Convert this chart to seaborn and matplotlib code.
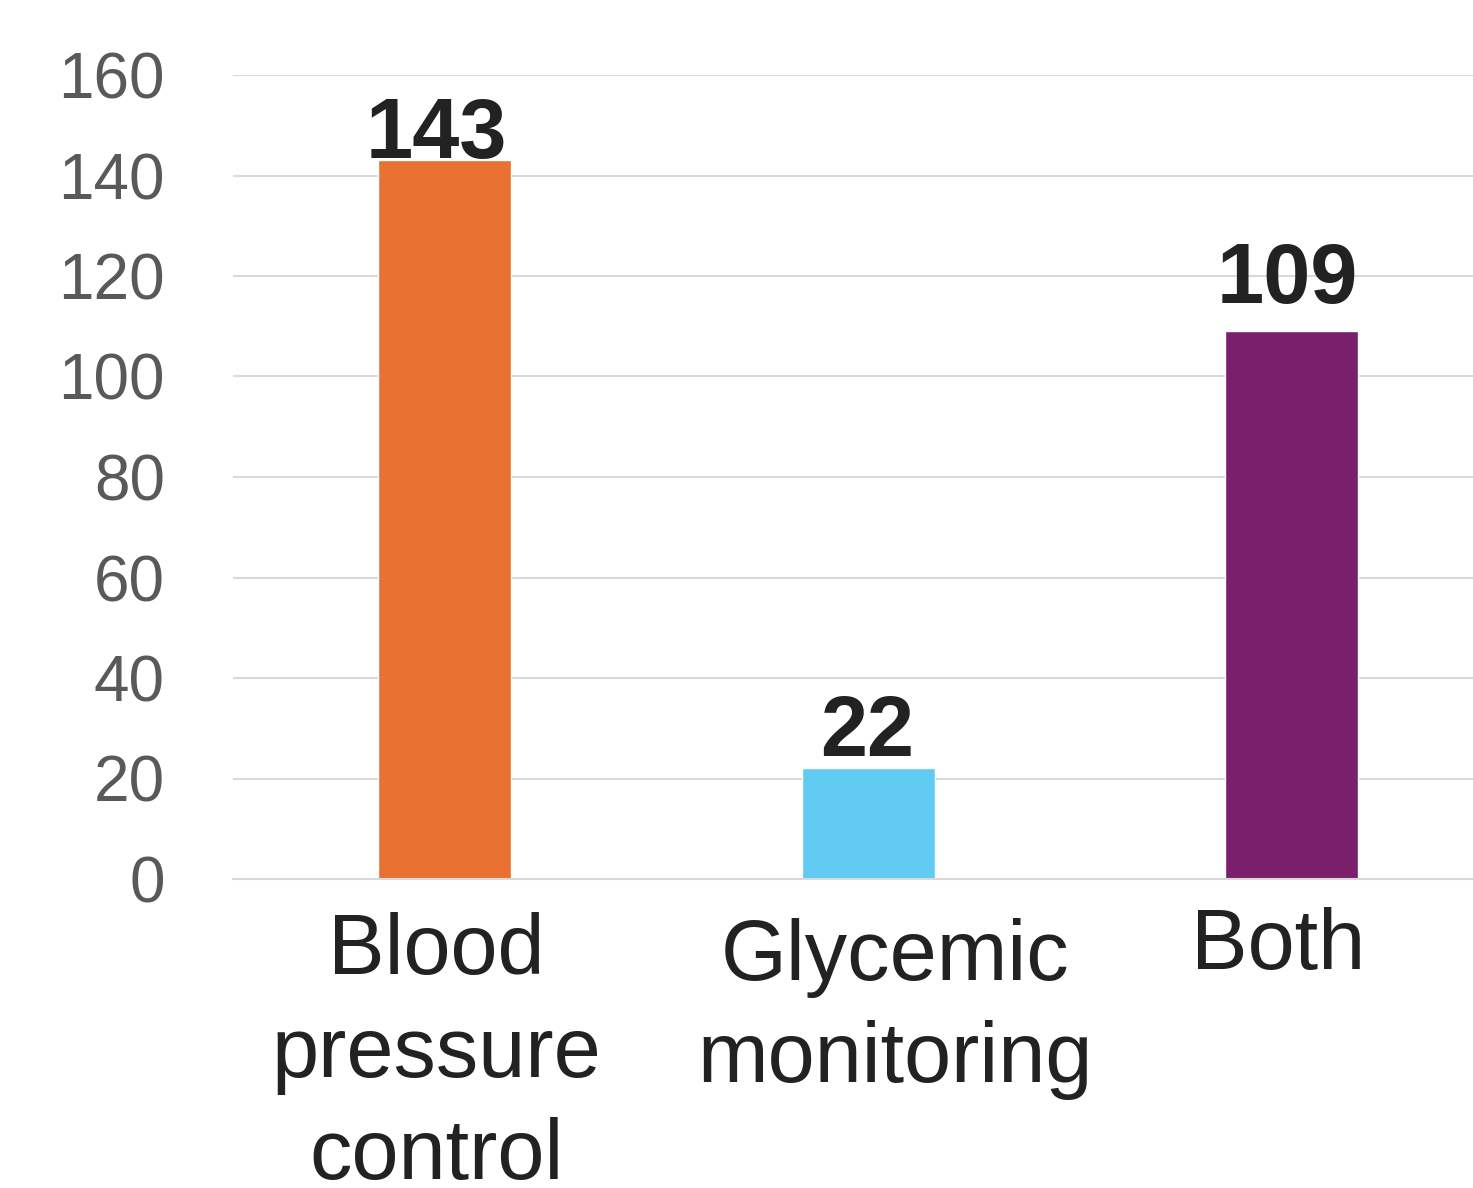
import matplotlib
matplotlib.use("Agg")
import matplotlib.pyplot as plt
import matplotlib.transforms as mtransforms
import seaborn as sns
import pandas as pd

categories = ["Blood\npressure\ncontrol", "Glycemic\nmonitoring", "Both"]
values = [143, 22, 109]
bar_colors = ["#E97132", "#61CBF3", "#7A1F6B"]
y_ticks = [0, 20, 40, 60, 80, 100, 120, 140, 160]

# label nudges (points): (dx, dy)
xlabel_offsets = [(-6, -2), (19, -6), (-10, 2)]
value_label_offsets = [(-6, 2), (-1, 9), (-3, 20)]

sns.set_theme(style="white")
plt.rcParams["font.family"] = ["Liberation Sans", "DejaVu Sans"]

df = pd.DataFrame({"category": categories, "value": values})

fig = plt.figure(figsize=(14.73, 11.88), dpi=100)
ax = fig.add_axes([233 / 1473, (1188 - 879) / 1188, 1270.5 / 1473, 804 / 1188])

sns.barplot(data=df, x="category", y="value", hue="category",
            palette=bar_colors, width=0.314, legend=False, ax=ax,
            saturation=1)

ax.set_ylim(0, 160)
ax.set_xlim(-0.5, 2.5)
ax.set_yticks(y_ticks)
ax.yaxis.grid(True, color="#D9D9D9", linewidth=1.5)
ax.set_axisbelow(True)
for s in ["top", "right", "left"]:
    ax.spines[s].set_visible(False)
ax.spines["bottom"].set_color("#D9D9D9")
ax.spines["bottom"].set_linewidth(1.5)
ax.set_xlabel("")
ax.set_ylabel("")

ax.tick_params(axis="y", length=0, pad=49, labelsize=46, labelcolor="#595959")
ax.tick_params(axis="x", length=0, pad=22, labelsize=61, labelcolor="#222222")

for lab, (dx, dy) in zip(ax.get_xticklabels(), xlabel_offsets):
    lab.set_linespacing(1.36)
    lab.set_transform(lab.get_transform() +
                      mtransforms.ScaledTranslation(dx / 72, dy / 72, fig.dpi_scale_trans))

for i, (v, (dx, dy)) in enumerate(zip(values, value_label_offsets)):
    ax.annotate(str(v), xy=(i, v), xytext=(dx, dy), textcoords="offset points",
                ha="center", va="baseline", fontsize=61, fontweight="bold",
                color="#222222")

fig.savefig("out.png", dpi=100, facecolor="white")
